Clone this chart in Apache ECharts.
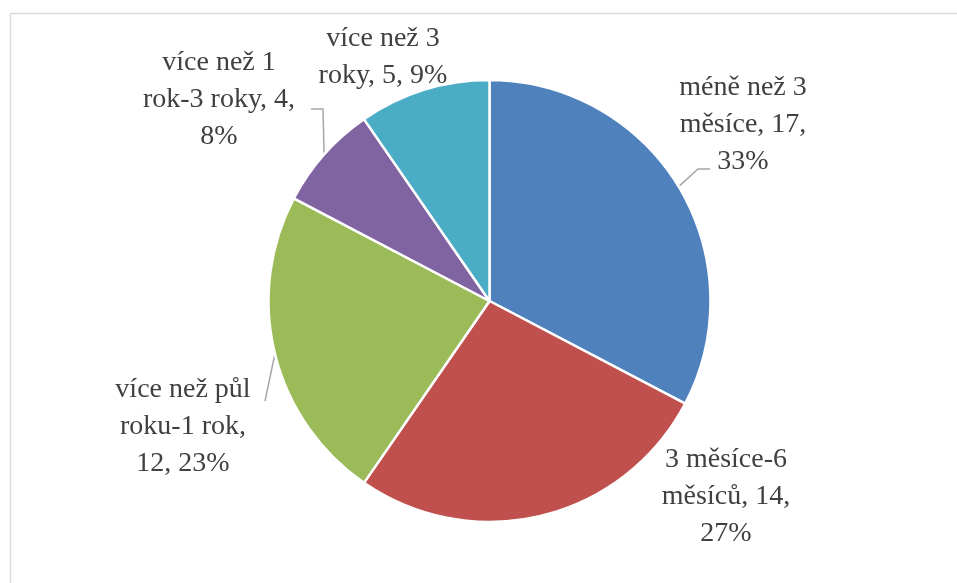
<!DOCTYPE html>
<html>
<head>
<meta charset="utf-8">
<script src="https://cdn.jsdelivr.net/npm/echarts@6/dist/echarts.min.js"></script>
<style>
  html, body { margin: 0; padding: 0; background: #fff; }
  #chart { width: 957px; height: 583px; }
</style>
</head>
<body>
<div id="chart"></div>
<script>
// Doba trvání – počty odpovědí podle kategorie
const categories = [
  'méně než 3 měsíce',
  '3 měsíce-6 měsíců',
  'více než půl roku-1 rok',
  'více než 1 rok-3 roky',
  'více než 3 roky'
];
const counts = [17, 14, 12, 4, 5];
const colors = ['#4F81BD', '#C0504D', '#9BBB59', '#8064A2', '#4BACC6'];

// Number of words on each line of the wrapped data labels
const labelWrap = [[3, 2, 1], [2, 2, 1], [3, 2, 2], [3, 3, 1], [3, 3]];

// Label block centres and leader-line bends (pixels)
const labelPos = [
  { x: 743, y: 125, line: [[698, 169], [710, 169]] },
  { x: 726, y: 497, line: null },
  { x: 183, y: 427, line: [[265, 401]] },
  { x: 219, y: 100, line: [[323, 109], [311, 109]] },
  { x: 383, y: 57,  line: null }
];

function wrapLabel(text, counts) {
  const words = text.split(' ');
  const lines = [];
  let i = 0;
  counts.forEach(n => { lines.push(words.slice(i, i + n).join(' ')); i += n; });
  if (i < words.length) lines[lines.length - 1] += ' ' + words.slice(i).join(' ');
  return lines.join('\n');
}

const chart = echarts.init(document.getElementById('chart'), null, { renderer: 'canvas' });

chart.setOption({
  animation: false,
  backgroundColor: '#ffffff',
  graphic: [{
    type: 'rect',
    shape: { x: 10.5, y: 13.5, width: 980, height: 620 },
    style: { fill: 'none', stroke: '#d9d9d9', lineWidth: 1.5 },
    silent: true
  }],
  series: [{
    type: 'pie',
    center: [489.5, 301],
    radius: [0, 221],
    startAngle: 90,
    clockwise: true,
    percentPrecision: 0,
    data: categories.map((name, i) => ({
      name,
      value: counts[i],
      itemStyle: { color: colors[i] }
    })),
    itemStyle: { borderColor: '#ffffff', borderWidth: 2.5 },
    label: {
      show: true,
      position: 'outside',
      fontFamily: '"Liberation Serif", "Times New Roman", serif',
      fontSize: 28,
      lineHeight: 37,
      color: '#404040',
      align: 'center',
      formatter: p => wrapLabel(p.name + ', ' + p.value + ', ' + p.percent + '%', labelWrap[p.dataIndex])
    },
    labelLine: {
      show: true,
      lineStyle: { color: '#A6A6A6', width: 1.5 }
    },
    labelLayout: params => {
      const pos = labelPos[params.dataIndex];
      const out = {
        x: pos.x,
        y: pos.y,
        align: 'center',
        verticalAlign: 'middle'
      };
      if (pos.line && params.labelLinePoints) {
        out.labelLinePoints = [params.labelLinePoints[0]].concat(pos.line);
      } else {
        out.labelLinePoints = params.labelLinePoints
          ? [params.labelLinePoints[0], params.labelLinePoints[0]]
          : undefined;
      }
      return out;
    },
    emphasis: { disabled: true }
  }]
});
</script>
</body>
</html>
